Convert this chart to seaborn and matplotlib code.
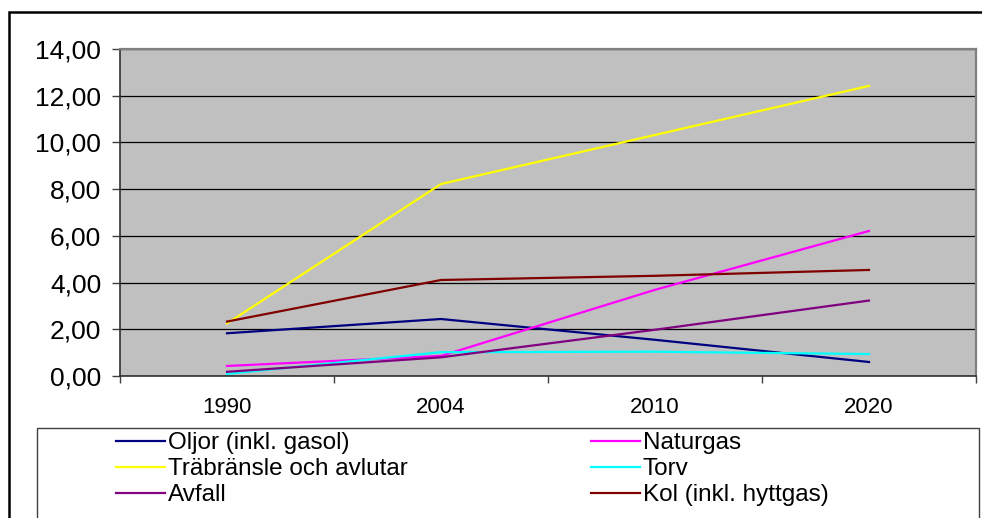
import matplotlib
matplotlib.use("Agg")
import matplotlib.pyplot as plt
from matplotlib.patches import Rectangle
from matplotlib.ticker import FuncFormatter, FixedLocator
import pandas as pd
import seaborn as sns

years = ["1990", "2004", "2010", "2020"]
series = ["Oljor (inkl. gasol)", "Naturgas", "Träbränsle och avlutar",
          "Torv", "Avfall", "Kol (inkl. hyttgas)"]
oljor = [1.83, 2.44, 1.55, 0.60]
naturgas = [0.43, 0.86, 3.69, 6.21]
trabransle = [2.25, 8.22, 10.32, 12.42]
torv = [0.09, 1.02, 1.04, 0.94]
avfall = [0.18, 0.80, 1.98, 3.23]
kol = [2.33, 4.11, 4.29, 4.54]
colors = ["#000080", "#FF00FF", "#FFFF00", "#00FFFF", "#800080", "#800000"]

rows = []
for name, vals in zip(series, [oljor, naturgas, trabransle, torv, avfall, kol]):
    for y, v in zip(years, vals):
        rows.append({"year": y, "value": v, "serie": name})
df = pd.DataFrame(rows)

plt.rcParams["font.family"] = ["Liberation Sans", "DejaVu Sans"]

W, H = 982, 518
fig = plt.figure(figsize=(W / 100, H / 100), dpi=100)
ax = fig.add_axes([120 / W, 1 - 376 / H, (976 - 120) / W, (376 - 49) / H])
ax.set_facecolor("#C0C0C0")

sns.lineplot(data=df, x="year", y="value", hue="serie", hue_order=series,
             palette=dict(zip(series, colors)), sort=False, linewidth=1.6,
             ax=ax)
leg = ax.get_legend()
handles = leg.legend_handles
labels = [t.get_text() for t in leg.get_texts()]
leg.remove()

ax.set_xlim(-0.5, 3.5)
ax.set_ylim(0, 14)
ax.set_yticks(range(0, 15, 2))
ax.yaxis.set_major_formatter(FuncFormatter(lambda v, p: f"{v:.2f}".replace(".", ",")))
ax.set_xlabel("")
ax.set_ylabel("")
ax.grid(axis="y", color="black", linewidth=0.9)
ax.set_axisbelow(True)

ax.xaxis.set_minor_locator(FixedLocator([-0.5, 0.5, 1.5, 2.5, 3.5]))
ax.tick_params(axis="x", which="major", length=0, pad=15, labelsize=16)
ax.tick_params(axis="x", which="minor", length=5, width=1, color="#404040")
ax.tick_params(axis="y", length=6, width=1, color="#404040", pad=7.5, labelsize=19)

for s in ["top", "right"]:
    ax.spines[s].set_color("#808080")
    ax.spines[s].set_linewidth(1.6)
for s in ["left", "bottom"]:
    ax.spines[s].set_color("#303030")
    ax.spines[s].set_linewidth(1.2)

# outer chart border and legend frame
fig.patches.append(Rectangle((9 / W, -0.1), 1.1, 1 - 12 / H + 0.1,
                             transform=fig.transFigure, fill=False,
                             edgecolor="black", linewidth=1.8))
fig.patches.append(Rectangle((37 / W, -0.1), (979 - 37) / W, 1 - 428 / H + 0.1,
                             transform=fig.transFigure, fill=False,
                             edgecolor="#404040", linewidth=1.0))

for h in handles:
    h.set_linewidth(1.6)

kw = dict(loc="upper left", frameon=False, fontsize=17.5, borderpad=0,
          borderaxespad=0, handlelength=2.0, handletextpad=0.12,
          labelspacing=0.17)
fig.legend([handles[i] for i in (0, 2, 4)], [labels[i] for i in (0, 2, 4)],
           bbox_to_anchor=(116 / W, 1 - 432 / H), **kw)
fig.legend([handles[i] for i in (1, 3, 5)], [labels[i] for i in (1, 3, 5)],
           bbox_to_anchor=(591 / W, 1 - 432 / H), **kw)

fig.savefig("out.png", dpi=100)
